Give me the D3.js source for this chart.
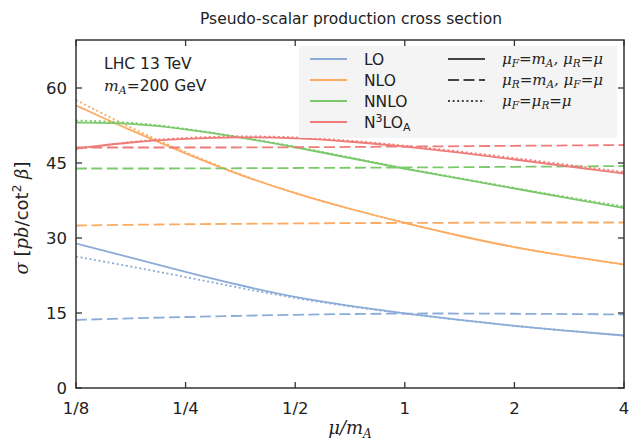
<html>
<head>
<meta charset="utf-8">
<script src="https://d3js.org/d3.v7.min.js"></script>
<style>
  body { margin: 0; background: white; }
  text { font-family: "DejaVu Sans", sans-serif; fill: #222; }
  .math { font-family: "DejaVu Serif", serif; font-style: italic; }
</style>
</head>
<body>
<div id="chart"></div>
<script>
// scale ratio mu/mA, half-octave steps from 1/8 to 4
var mu = [0.125, 0.1768, 0.25, 0.3536, 0.5, 0.7071, 1, 1.414, 2, 2.828, 4];

// sigma [pb / cot^2 beta]
var loFixF   = [28.9, 26.1, 23.2, 20.5, 18.1, 16.4, 14.9, 13.6, 12.4, 11.4, 10.5];
var loFixR   = [13.6, 13.95, 14.2, 14.45, 14.65, 14.8, 14.9, 14.9, 14.85, 14.8, 14.7];
var loBoth   = [26.3, 24.3, 22.2, 20.0, 17.95, 16.3, 14.85, 13.6, 12.4, 11.4, 10.5];

var nloFixF  = [56.5, 51.5, 46.9, 42.5, 38.9, 35.8, 33.0, 30.4, 28.1, 26.3, 24.7];
var nloFixR  = [32.5, 32.65, 32.75, 32.85, 32.9, 33.0, 33.0, 33.05, 33.1, 33.1, 33.1];
var nloBoth  = [57.6, 52.0, 47.1, 42.6, 38.9, 35.8, 33.0, 30.4, 28.1, 26.3, 24.7];

var nnloFixF = [53.1, 53.0, 51.8, 50.1, 48.2, 46.0, 43.8, 41.9, 39.9, 37.9, 36.0];
var nnloFixR = [43.9, 43.9, 43.9, 43.95, 44.0, 44.05, 44.1, 44.15, 44.25, 44.3, 44.4];
var nnloBoth = [53.5, 53.2, 51.9, 50.2, 48.3, 46.1, 43.9, 42.0, 40.0, 38.1, 36.3];

var n3loFixF = [47.9, 49.2, 49.9, 50.2, 50.0, 49.3, 48.3, 47.1, 45.7, 44.3, 42.9];
var n3loFixR = [48.1, 48.1, 48.1, 48.1, 48.15, 48.2, 48.3, 48.35, 48.45, 48.5, 48.6];
var n3loBoth = [47.8, 49.3, 50.1, 50.4, 50.2, 49.5, 48.5, 47.3, 46.0, 44.6, 43.2];

var xTicks = [0.125, 0.25, 0.5, 1, 2, 4];
var xTickLabels = ["1/8", "1/4", "1/2", "1", "2", "4"];
var yTicks = [0, 15, 30, 45, 60];

var orders = ["LO", "NLO", "NNLO", "N3LO"];
var colors = ["#8cacd8", "#fdab62", "#7cc96b", "#ef7c79"];

var series = [
    { order: 0, style: 0, v: loFixF }, { order: 0, style: 1, v: loFixR }, { order: 0, style: 2, v: loBoth },
    { order: 1, style: 0, v: nloFixF }, { order: 1, style: 1, v: nloFixR }, { order: 1, style: 2, v: nloBoth },
    { order: 2, style: 0, v: nnloFixF }, { order: 2, style: 1, v: nnloFixR }, { order: 2, style: 2, v: nnloBoth },
    { order: 3, style: 0, v: n3loFixF }, { order: 3, style: 1, v: n3loFixR }, { order: 3, style: 2, v: n3loBoth }
];
var dashes = [null, "11,4.5", "2,2.6"];

var W = 629, H = 442;
var pLeft = 76, pRight = 624, pTop = 40, pBottom = 388;

var svg = d3.select("#chart").append("svg")
    .attr("width", W).attr("height", H);

var x = d3.scaleLog().base(2).domain([0.125, 4]).range([pLeft, pRight]);
var y = d3.scaleLinear().domain([0, 69.6]).range([pBottom, pTop]);

// writes [text, subscript] pairs into a text element
function mathText(t, parts, subSize, shift) {
    var back = 0;
    parts.forEach(p => {
        var s = t.append("tspan").attr("class", p[2] ? null : "math").text(p[0]);
        if (back) { s.attr("dy", back); back = 0; }
        if (p[1]) {
            t.append("tspan").attr("class", "math").attr("dy", shift)
                .style("font-size", subSize).text(p[1]);
            back = -shift;
        }
    });
}

// title
svg.append("text")
    .attr("x", (pLeft + pRight) / 2 + 1).attr("y", 24)
    .attr("text-anchor", "middle").style("font-size", "15.5px")
    .text("Pseudo-scalar production cross section");

// curves
var line = d3.line()
    .x((d, i) => x(mu[i]))
    .y(d => y(d))
    .curve(d3.curveBasis);

svg.append("g").selectAll("path")
    .data(series)
    .enter().append("path")
    .attr("d", d => line(d.v))
    .attr("fill", "none")
    .attr("stroke", d => colors[d.order])
    .attr("stroke-width", 1.8)
    .attr("stroke-dasharray", d => dashes[d.style]);

// frame and inward ticks
svg.append("rect")
    .attr("x", pLeft).attr("y", pTop)
    .attr("width", pRight - pLeft).attr("height", pBottom - pTop)
    .attr("fill", "none").attr("stroke", "#333").attr("stroke-width", 1.5);

var tk = 6;
var axes = svg.append("g").attr("stroke", "#333").attr("stroke-width", 1.3);
xTicks.forEach(t => {
    axes.append("line").attr("x1", x(t)).attr("x2", x(t)).attr("y1", pBottom).attr("y2", pBottom - tk);
    axes.append("line").attr("x1", x(t)).attr("x2", x(t)).attr("y1", pTop).attr("y2", pTop + tk);
});
yTicks.forEach(t => {
    axes.append("line").attr("x1", pLeft).attr("x2", pLeft + tk).attr("y1", y(t)).attr("y2", y(t));
    axes.append("line").attr("x1", pRight).attr("x2", pRight - tk).attr("y1", y(t)).attr("y2", y(t));
});

svg.append("g").selectAll("text")
    .data(xTicks).enter().append("text")
    .attr("x", d => x(d)).attr("y", 414)
    .attr("text-anchor", "middle").style("font-size", "16.5px")
    .text((d, i) => xTickLabels[i]);

svg.append("g").selectAll("text")
    .data(yTicks).enter().append("text")
    .attr("x", 67).attr("y", d => y(d) + 6)
    .attr("text-anchor", "end").style("font-size", "16.5px")
    .text(d => d);

// axis labels
var xl = svg.append("text")
    .attr("x", 350).attr("y", 434)
    .attr("text-anchor", "middle").style("font-size", "18px");
mathText(xl, [["μ/m", "A"]], "12px", 4);

var yl = svg.append("text")
    .attr("transform", "translate(28,218) rotate(-90)")
    .attr("text-anchor", "middle").style("font-size", "18px");
yl.append("tspan").attr("class", "math").text("σ ");
yl.append("tspan").text("[");
yl.append("tspan").attr("class", "math").text("pb");
yl.append("tspan").text("/cot");
yl.append("tspan").attr("dy", -7).style("font-size", "12px").text("2");
yl.append("tspan").attr("dy", 7).attr("class", "math").text(" β");
yl.append("tspan").text("]");

// annotation
svg.append("text").attr("x", 104).attr("y", 69).style("font-size", "15.5px").text("LHC 13 TeV");
var ann = svg.append("text").attr("x", 104).attr("y", 91).style("font-size", "15.5px");
mathText(ann, [["m", "A"], ["=200 GeV", "", true]], "11px", 3);

// legend
var lg = svg.append("g");
lg.append("rect").attr("x", 299).attr("y", 46).attr("width", 318).attr("height", 92)
    .attr("fill", "#f4f4f4");

orders.forEach((o, i) => {
    var yy = 59 + i * 21;
    lg.append("line").attr("x1", 310).attr("x2", 347).attr("y1", yy).attr("y2", yy)
        .attr("stroke", colors[i]).attr("stroke-width", 1.8);
    var t = lg.append("text").attr("x", 364).attr("y", yy + 6).style("font-size", "15.5px");
    if (o === "N3LO") {
        t.append("tspan").text("N");
        t.append("tspan").attr("dy", -6).style("font-size", "11px").text("3");
        t.append("tspan").attr("dy", 6).text("LO");
        t.append("tspan").attr("dy", 3).style("font-size", "11px").text("A");
    } else {
        t.text(o);
    }
});

var scaleLabels = [
    [["μ", "F"], ["=m", "A"], [", μ", "R"], ["=μ", ""]],
    [["μ", "R"], ["=m", "A"], [", μ", "F"], ["=μ", ""]],
    [["μ", "F"], ["=μ", "R"], ["=μ", ""]]
];
scaleLabels.forEach((parts, i) => {
    var yy = 59 + i * 21;
    lg.append("line").attr("x1", 448).attr("x2", 485).attr("y1", yy).attr("y2", yy)
        .attr("stroke", "#444").attr("stroke-width", 1.8)
        .attr("stroke-dasharray", dashes[i]);
    var t = lg.append("text").attr("x", 502).attr("y", yy + 5).style("font-size", "15px");
    mathText(t, parts, "10.5px", 3);
});
</script>
</body>
</html>
